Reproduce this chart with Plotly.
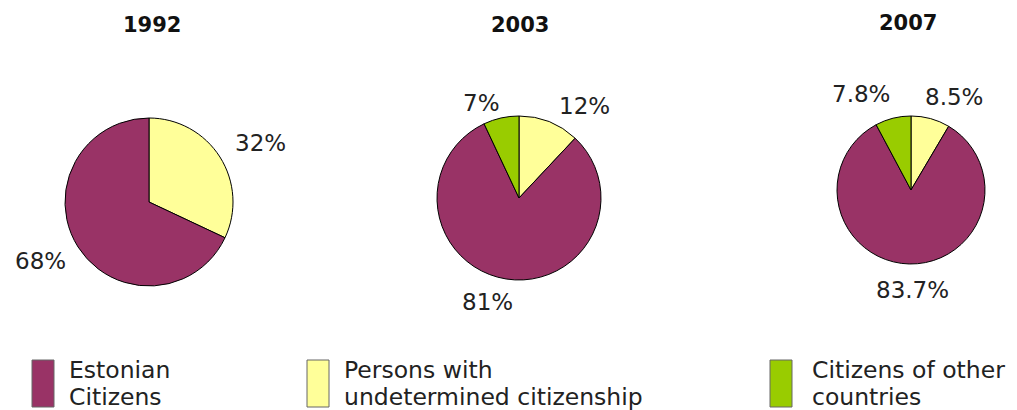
import plotly.graph_objects as go

# Population of Estonia by citizenship, shares in percent
years = ["1992", "2003", "2007"]
categories = ["Persons with undetermined citizenship", "Estonian Citizens", "Citizens of other countries"]
undetermined = [32, 12, 8.5]
estonian = [68, 81, 83.7]
other = [None, 7, 7.8]

colors = {
    "Estonian Citizens": "#993366",
    "Persons with undetermined citizenship": "#FFFF99",
    "Citizens of other countries": "#99CC00",
}

W, H = 1017, 410


def px(x, y):
    """Pixel position -> paper coordinates."""
    return x / W, 1 - y / H


# pie placement: centre (px) and radius (px)
pie_geom = [((149, 202), 84), ((519, 198), 82), ((911, 190), 74)]
title_pos = [(152, 25), (520, 25), (908, 23)]
# label anchors per pie, in the order undetermined, estonian, other
label_pos = [
    [(260, 143), (40, 261), None],
    [(584, 106), (487, 302), (481, 103)],
    [(954, 97), (912, 290), (861, 94)],
]

fig = go.Figure()
annotations = []
label_font = dict(family="DejaVu Sans", size=23, color="#222222")
legend_font = dict(family="DejaVu Sans", size=23.5, color="#222222")

for i, year in enumerate(years):
    vals = [undetermined[i], estonian[i], other[i]]
    labs = [c for c, v in zip(categories, vals) if v is not None]
    vs = [v for v in vals if v is not None]
    (cx, cy), r = pie_geom[i]
    x0, y1 = px(cx - r, cy - r)
    x1, y0 = px(cx + r, cy + r)
    fig.add_trace(go.Pie(
        labels=labs,
        values=vs,
        sort=False,
        direction="clockwise",
        rotation=0,
        textinfo="none",
        hoverinfo="label+percent",
        marker=dict(colors=[colors[c] for c in labs], line=dict(color="#000000", width=1)),
        domain=dict(x=[x0, x1], y=[y0, y1]),
        showlegend=False,
        name=year,
    ))
    tx, ty = px(*title_pos[i])
    annotations.append(dict(
        x=tx, y=ty, xref="paper", yref="paper", text=f"<b>{year}</b>",
        xanchor="center", yanchor="middle",
        showarrow=False, font=dict(family="DejaVu Sans", size=21, color="#111111"),
    ))
    for v, pos in zip(vals, label_pos[i]):
        if v is None or pos is None:
            continue
        lx, ly = px(*pos)
        annotations.append(dict(
            x=lx, y=ly, xref="paper", yref="paper", text=f"{v:g}%",
            xanchor="center", yanchor="middle",
            showarrow=False, font=label_font,
        ))

# legend along the bottom: swatch plus two lines of text
legend_items = [
    ("Estonian Citizens", ["Estonian", "Citizens"], 32, 67),
    ("Persons with undetermined citizenship", ["Persons with", "undetermined citizenship"], 307, 342),
    ("Citizens of other countries", ["Citizens of other", "countries"], 770, 810),
]
shapes = []
for cat, lines, sx, tx in legend_items:
    x0, y1 = px(sx, 360)
    x1, y0 = px(sx + 22, 407)
    shapes.append(dict(
        type="rect", xref="paper", yref="paper", x0=x0, x1=x1, y0=y0, y1=y1,
        fillcolor=colors[cat], line=dict(color="#666666", width=1),
    ))
    for line, ly in zip(lines, [370, 397]):
        ax, ay = px(tx, ly)
        annotations.append(dict(
            x=ax, y=ay, xref="paper", yref="paper", text=line,
            xanchor="left", yanchor="middle",
            showarrow=False, font=legend_font,
        ))

fig.update_layout(
    width=W, height=H,
    margin=dict(l=0, r=0, t=0, b=0),
    paper_bgcolor="white", plot_bgcolor="white",
    annotations=annotations, shapes=shapes,
    showlegend=False,
)

fig.write_html("out.html")
